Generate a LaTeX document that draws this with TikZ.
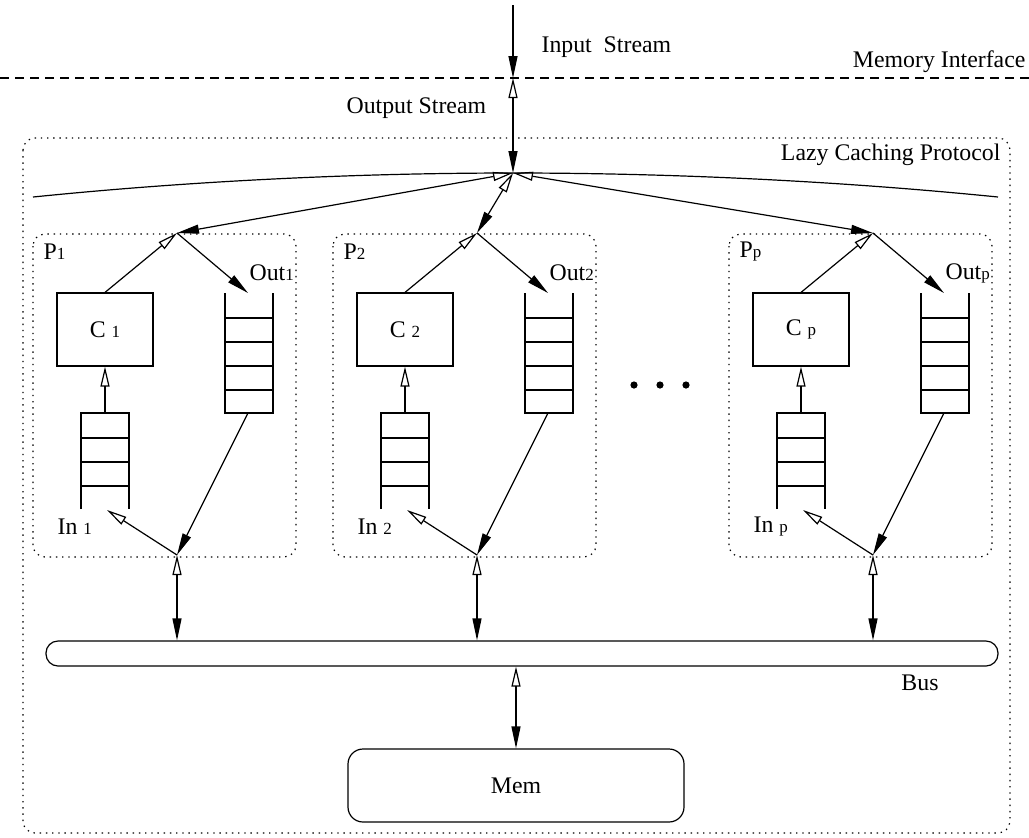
\documentclass[tikz,border=0pt]{standalone}
\usepackage{fontspec}
\setmainfont{Liberation Serif}
\usetikzlibrary{arrows.meta}

\newcommand{\idx}[1]{{\fontsize{8.5}{9}\selectfont #1}}

\tikzset{
	lbl/.style={inner sep=0pt},
	tofill/.style={-{Triangle[length=11pt,width=4.5pt]}},
	bothways/.style={{Triangle[open,length=10pt,width=4.5pt]}-{Triangle[length=11pt,width=4.5pt]}},
	upopen/.style={-{Triangle[open,length=10pt,width=4.5pt]}},
	dotbox/.style={dash pattern=on 0.7pt off 2.4pt, rounded corners=6pt},
	cbox/.style={draw, minimum width=48pt, minimum height=36.5pt, inner sep=0pt},
}

\begin{document}
\begin{tikzpicture}[x=0.5pt, y=-0.5pt, line width=0.6pt, font=\fontsize{11.9}{14}\selectfont]
	\useasboundingbox (0,0) rectangle (1029,837);

	% memory interface
	\draw[dash pattern=on 4.5pt off 3pt] (0,78) -- (1029,78);
	\node[lbl, anchor=east] (memif) at (1026,62) {Memory Interface};
	\coordinate (src) at (513,5);
	\coordinate (mi) at (513,78);
	\coordinate (apex) at (513,173);
	\node[lbl, anchor=west] (instr) at (541,47) {Input\ \ Stream};
	\node[lbl, anchor=west] (outstr) at (346,108) {Output Stream};
	\draw[tofill] (src) -- (mi);
	\draw[bothways] (mi) -- (apex);

	% protocol
	\draw[dotbox] (23,138) rectangle (1010,833);
	\node[lbl, anchor=east] (lcp) at (1001,155) {Lazy Caching Protocol};
	\draw (33,197) parabola bend (apex) (998,197);

	\node[draw, rounded corners=6pt, minimum width=476pt, minimum height=12.5pt, inner sep=0pt] (bus) at (522,653.5) {};
	\node[lbl] (buslbl) at (920,683) {Bus};
	\node[draw, rounded corners=7.5pt, minimum width=168pt, minimum height=36.5pt] (mem) at (516,785.5) {Mem};
	\draw[bothways] (bus.south -| mem.north) -- (mem.north);

	% processors
	\foreach \x/\i in {177/1,477/2,873/p}{
		\draw[dotbox] ({\x-144},234) rectangle ({\x+119},557);
		\node[lbl, anchor=west] (p\i) at ({\x-134},252) {P\idx{\i}};
		\node[cbox] (c\i) at ({\x-72},329.5) {C~\idx{\i}};
		\node[lbl, anchor=west] (outl\i) at ({\x+72},273) {Out\idx{\i}};
		\node[lbl, anchor=west] (inl\i) at ({\x-120},527) {In~\idx{\i}};

		\coordinate (top\i) at (\x,233);
		\coordinate (bot\i) at (\x,555);
		\coordinate (outq\i) at ({\x+71},293);
		\coordinate (outb\i) at ({\x+71},413);
		\coordinate (inq\i) at ({\x-72},413);
		\coordinate (inb\i) at ({\x-70},510);

		% out queue
		\draw ({\x+48},293) -- ({\x+48},413) -- ({\x+96},413) -- ({\x+96},293);
		\foreach \y in {318,342,366,390}
			\draw ({\x+48},\y) -- ({\x+96},\y);
		% in queue
		\draw ({\x-96},509) -- ({\x-96},413) -- ({\x-48},413) -- ({\x-48},509);
		\foreach \y in {438,462,486}
			\draw ({\x-96},\y) -- ({\x-48},\y);

		\draw[bothways] (apex) -- (top\i);
		\draw[upopen] (c\i.north) -- (top\i);
		\draw[tofill] (top\i) -- (outq\i);
		\draw[tofill] (outb\i) -- (bot\i);
		\draw[upopen] (bot\i) -- (inb\i);
		\draw[upopen] (inq\i) -- (c\i.south);
		\draw[bothways] (bot\i) -- (bot\i |- bus.north);
	}

	\foreach \d in {634,660,686}
		\fill (\d,385) circle (1.8pt);
\end{tikzpicture}
\end{document}
